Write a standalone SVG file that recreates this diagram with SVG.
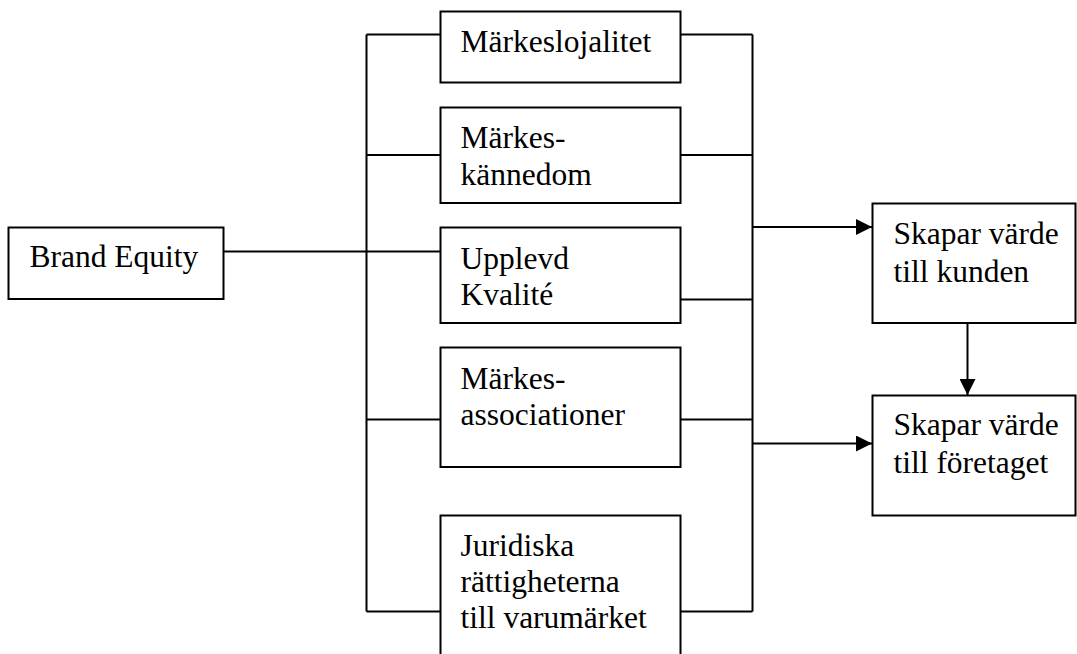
<svg xmlns="http://www.w3.org/2000/svg" width="1077" height="654" viewBox="0 0 1077 654">
<style>
.box{fill:#fff;stroke:#000;stroke-width:2}
.ln{fill:none;stroke:#000;stroke-width:2}
.t{font-size:31.5px;fill:#000}
</style>
<defs>
<marker id="ah" markerUnits="userSpaceOnUse" markerWidth="16" markerHeight="16" viewBox="0 0 16 16" refX="16" refY="8" orient="auto">
<path d="M0,0 L16,8 L0,16 Z" fill="#000"/>
</marker>
</defs>
<rect width="1077" height="654" fill="#fff"/>
<g id="connectors">
<line class="ln" x1="223" y1="251.5" x2="440" y2="251.5"/>
<line class="ln" x1="366.5" y1="34.5" x2="366.5" y2="611.5"/>
<line class="ln" x1="366.5" y1="34.5" x2="440" y2="34.5"/>
<line class="ln" x1="366.5" y1="155" x2="440" y2="155"/>
<line class="ln" x1="366.5" y1="419.5" x2="440" y2="419.5"/>
<line class="ln" x1="366.5" y1="611.5" x2="440" y2="611.5"/>
<line class="ln" x1="752.5" y1="34.5" x2="752.5" y2="611.5"/>
<line class="ln" x1="680.5" y1="34.5" x2="752.5" y2="34.5"/>
<line class="ln" x1="680.5" y1="155" x2="752.5" y2="155"/>
<line class="ln" x1="680.5" y1="299.5" x2="752.5" y2="299.5"/>
<line class="ln" x1="680.5" y1="419.5" x2="752.5" y2="419.5"/>
<line class="ln" x1="680.5" y1="611.5" x2="752.5" y2="611.5"/>
<line class="ln" x1="752.5" y1="227" x2="872" y2="227" marker-end="url(#ah)"/>
<line class="ln" x1="752.5" y1="443.5" x2="872" y2="443.5" marker-end="url(#ah)"/>
<line class="ln" x1="967.5" y1="323" x2="967.5" y2="395" marker-end="url(#ah)"/>
</g>
<g font-family="Liberation Serif, Tinos, Times New Roman, DejaVu Serif, serif" class="t">
<g id="brand-equity">
<rect class="box" x="8.5" y="227.5" width="215" height="71.5"/>
<text x="29.5" y="266.5">Brand Equity</text>
</g>
<g id="markeslojalitet">
<rect class="box" x="440.5" y="11.5" width="240" height="71"/>
<text x="460.5" y="51.5">Märkeslojalitet</text>
</g>
<g id="markeskannedom">
<rect class="box" x="440.5" y="107.5" width="240" height="95.5"/>
<text x="460.5" y="148">Märkes-</text>
<text x="460.5" y="185">kännedom</text>
</g>
<g id="upplevd-kvalite">
<rect class="box" x="440.5" y="227.5" width="240" height="95.5"/>
<text x="460.5" y="268.5">Upplevd</text>
<text x="460.5" y="305">Kvalité</text>
</g>
<g id="markesassociationer">
<rect class="box" x="440.5" y="347.5" width="240" height="119.5"/>
<text x="460.5" y="388.5">Märkes-</text>
<text x="460.5" y="425">associationer</text>
</g>
<g id="juridiska">
<rect class="box" x="440.5" y="515.5" width="240" height="150"/>
<text x="460.5" y="556">Juridiska</text>
<text x="460.5" y="592">rättigheterna</text>
<text x="460.5" y="628">till varumärket</text>
</g>
<g id="varde-kunden">
<rect class="box" x="872.5" y="203.5" width="203" height="119.5"/>
<text x="893.5" y="244">Skapar värde</text>
<text x="893.5" y="281.5">till kunden</text>
</g>
<g id="varde-foretaget">
<rect class="box" x="872.5" y="395.5" width="203" height="120"/>
<text x="893.5" y="435">Skapar värde</text>
<text x="893.5" y="472.5">till företaget</text>
</g>
</g>
</svg>
